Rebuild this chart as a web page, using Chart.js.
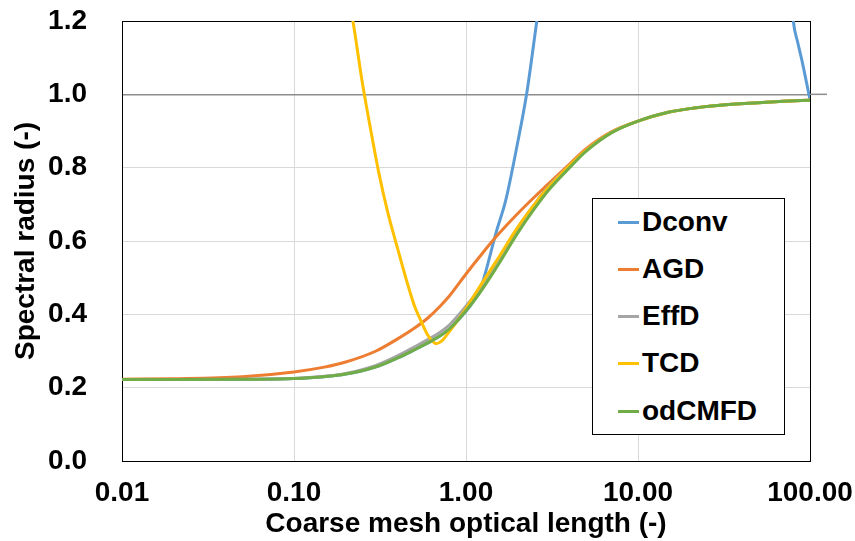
<!DOCTYPE html>
<html lang="en">
<head>
    <meta charset="UTF-8">
    <title>Spectral radius vs coarse mesh optical length</title>
    <script src="https://cdn.jsdelivr.net/npm/chart.js"></script>
    <style>
        body {
            margin: 0;
            background: white;
            font-family: "Liberation Sans", Arial, sans-serif;
        }
        #wrap {
            position: relative;
            width: 855px;
            height: 541px;
        }
        #legend {
            position: absolute;
            left: 592px;
            top: 198px;
            width: 191px;
            height: 235px;
            border: 1px solid #000;
            background: white;
        }
        .item {
            position: absolute;
            left: 25px;
            height: 32px;
            line-height: 32px;
            font-weight: bold;
            font-size: 28px;
            color: #000;
        }
        .item span {
            display: inline-block;
            width: 21px;
            height: 3px;
            vertical-align: middle;
            margin-right: 3px;
            position: relative;
            top: -1px;
        }
    </style>
</head>
<body>
    <div id="wrap">
        <canvas id="chart" width="855" height="541"></canvas>
        <div id="legend"></div>
    </div>

    <script>
        // shared x positions (coarse mesh optical length)
        const xCommon = [0.01, 0.02, 0.05, 0.1, 0.15, 0.2, 0.3, 0.4, 0.5, 0.6, 0.7, 0.8, 1.0, 1.2, 1.5, 2.0, 2.5, 3.0, 4.0, 5.0, 7.0, 10, 15, 20, 30, 50, 70, 100];

        const odCMFD = [0.222, 0.222, 0.223, 0.225, 0.23, 0.237, 0.257, 0.281, 0.303, 0.322, 0.34, 0.36, 0.41, 0.458, 0.527, 0.622, 0.688, 0.737, 0.80, 0.845, 0.895, 0.927, 0.951, 0.961, 0.97, 0.977, 0.981, 0.984];
        const effD   = [0.222, 0.222, 0.223, 0.225, 0.231, 0.239, 0.261, 0.287, 0.311, 0.331, 0.35, 0.371, 0.422, 0.471, 0.541, 0.636, 0.70, 0.747, 0.806, 0.848, 0.896, 0.927, 0.951, 0.961, 0.97, 0.977, 0.981, 0.984];
        const agd    = [0.223, 0.2245, 0.23, 0.243, 0.256, 0.27, 0.30, 0.333, 0.362, 0.39, 0.42, 0.45, 0.51, 0.557, 0.612, 0.675, 0.72, 0.755, 0.81, 0.852, 0.898, 0.927, 0.951, 0.961, 0.97, 0.977, 0.981, 0.984];

        const tcdX = [0.2, 0.22, 0.25, 0.28, 0.31, 0.35, 0.4, 0.45, 0.5, 0.55, 0.6, 0.64, 0.67, 0.72, 0.8, 0.9, 1.0, 1.2, 1.5, 2.0, 2.5, 3.0, 4.0, 5.0, 7.0, 10, 15, 20, 30, 50, 70, 100];
        const tcdY = [1.3, 1.2, 1.03, 0.9, 0.79, 0.68, 0.58, 0.494, 0.425, 0.38, 0.343, 0.326, 0.32, 0.327, 0.353, 0.385, 0.416, 0.475, 0.545, 0.638, 0.70, 0.745, 0.806, 0.848, 0.896, 0.927, 0.951, 0.961, 0.97, 0.977, 0.981, 0.984];

        const dconvX = [0.01, 0.02, 0.05, 0.1, 0.15, 0.2, 0.3, 0.4, 0.5, 0.6, 0.7, 0.8, 1.0, 1.1, 1.2, 1.3, 1.5, 1.7, 2.0, 2.25, 2.58, 2.8, 3.2, 5, 10, 30, 60, 80, 85, 90, 100];
        const dconvY = [0.222, 0.222, 0.223, 0.225, 0.23, 0.237, 0.257, 0.281, 0.303, 0.322, 0.34, 0.36, 0.408, 0.434, 0.462, 0.515, 0.625, 0.71, 0.87, 1.0, 1.2, 1.32, 1.55, 2.5, 4.0, 4.0, 2.0, 1.2, 1.14, 1.09, 0.985];

        const xTicks = [0.01, 0.1, 1, 10, 100];

        const series = [
            { label: 'Dconv', color: '#5B9BD5', x: dconvX, y: dconvY },
            { label: 'AGD', color: '#ED7D31', x: xCommon, y: agd },
            { label: 'EffD', color: '#A5A5A5', x: xCommon, y: effD },
            { label: 'TCD', color: '#FFC000', x: tcdX, y: tcdY },
            { label: 'odCMFD', color: '#70AD47', x: xCommon, y: odCMFD }
        ];

        const font = { family: '"Liberation Sans", Arial, sans-serif', size: 28, weight: 'bold' };

        // black frame round the plot area, plus the 1.0 line poking out on the right
        const frame = {
            id: 'frame',
            beforeDatasetsDraw(chart) {
                const a = chart.chartArea;
                const ctx = chart.ctx;
                ctx.save();
                ctx.strokeStyle = '#000';
                ctx.lineWidth = 1;
                ctx.strokeRect(a.left + 0.5, a.top + 0.5, a.right - a.left, a.bottom - a.top);
                const y1 = chart.scales.y.getPixelForValue(1);
                ctx.strokeStyle = '#8c8c8c';
                ctx.lineWidth = 1.5;
                ctx.beginPath();
                ctx.moveTo(a.right, y1);
                ctx.lineTo(a.right + 17, y1);
                ctx.stroke();
                ctx.restore();
            }
        };

        // chart.js draws dataset 0 on top, so reverse the list
        const datasets = series.slice().reverse().map(s => ({
            label: s.label,
            data: s.x.map((v, i) => ({ x: v, y: s.y[i] })),
            borderColor: s.color,
            backgroundColor: s.color,
            borderWidth: 3,
            pointRadius: 0,
            cubicInterpolationMode: 'monotone',
            fill: false
        }));

        new Chart(document.getElementById('chart'), {
            type: 'line',
            data: { datasets: datasets },
            options: {
                responsive: false,
                animation: false,
                layout: { padding: { left: 9, top: 21, right: 0, bottom: 0 } },
                plugins: {
                    legend: { display: false },
                    tooltip: { enabled: false }
                },
                scales: {
                    x: {
                        type: 'logarithmic',
                        min: 0.01,
                        max: 100,
                        afterBuildTicks: scale => {
                            scale.ticks = xTicks.map(v => ({ value: v }));
                        },
                        afterFit: scale => {
                            scale.height = 80;
                            scale.paddingLeft = 0;
                            scale.paddingRight = 45;
                        },
                        ticks: {
                            callback: v => Number(v).toFixed(2),
                            color: '#000',
                            font: font,
                            maxRotation: 0,
                            autoSkip: false,
                            padding: 15
                        },
                        grid: { color: '#d9d9d9', drawTicks: false },
                        border: { color: '#000' },
                        title: {
                            display: true,
                            text: 'Coarse mesh optical length (-)',
                            color: '#000',
                            font: font,
                            padding: { top: 0, bottom: 0 }
                        }
                    },
                    y: {
                        min: 0,
                        max: 1.2,
                        afterFit: scale => {
                            scale.width = 113;
                            scale.paddingTop = 0;
                            scale.paddingBottom = 0;
                        },
                        ticks: {
                            stepSize: 0.2,
                            callback: v => Number(v).toFixed(1),
                            color: '#000',
                            font: font,
                            padding: 35
                        },
                        grid: {
                            drawTicks: false,
                            color: ctx => Math.abs(ctx.tick.value - 1) < 1e-6 ? '#8c8c8c' : '#d9d9d9',
                            lineWidth: ctx => Math.abs(ctx.tick.value - 1) < 1e-6 ? 1.5 : 1
                        },
                        border: { color: '#000' },
                        title: {
                            display: true,
                            text: 'Spectral radius (-)',
                            color: '#000',
                            font: font,
                            padding: { top: 0, bottom: 0 }
                        }
                    }
                }
            },
            plugins: [frame]
        });

        // legend box inside the plot, same order as the reference
        const legend = document.getElementById('legend');
        const rowTops = [7, 54, 101, 148, 196];
        series.forEach((s, i) => {
            const d = document.createElement('div');
            d.className = 'item';
            d.style.top = rowTops[i] + 'px';
            d.innerHTML = '<span style="background:' + s.color + '"></span>' + s.label;
            legend.appendChild(d);
        });
    </script>
</body>
</html>
